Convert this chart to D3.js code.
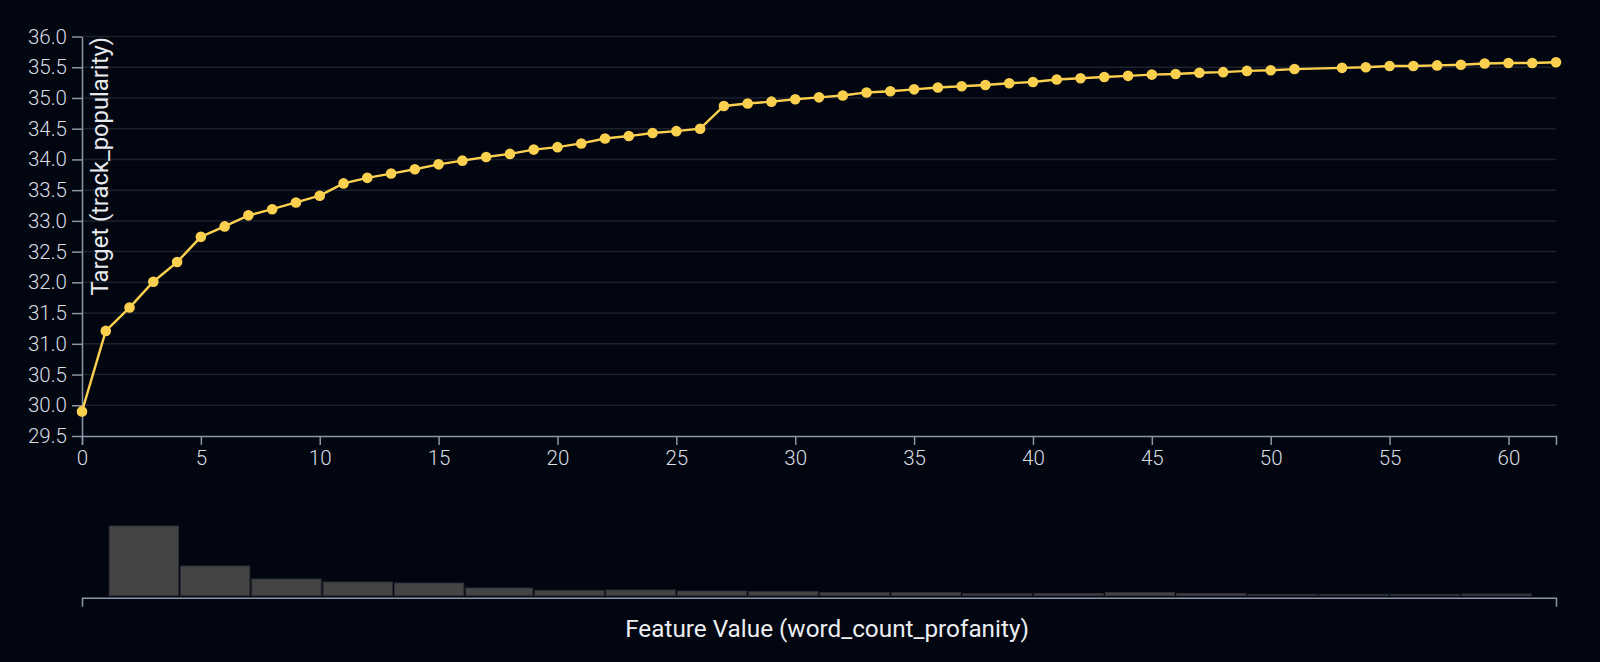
<!DOCTYPE html>
<html>
<head>
<meta charset="utf-8">
<script src="https://cdn.jsdelivr.net/npm/d3@7"></script>
<style>
  html, body { margin: 0; padding: 0; background: #020611; }
  svg { display: block; }
  text { font-family: Roboto, "Noto Sans", sans-serif; }
</style>
</head>
<body>
<svg id="chart" width="1600" height="662"></svg>
<script>
// ---- data ----
const featureValues = [0,1,2,3,4,5,6,7,8,9,10,11,12,13,14,15,16,17,18,19,20,21,22,23,24,25,26,27,28,29,30,31,32,33,34,35,36,37,38,39,40,41,42,43,44,45,46,47,48,49,50,51,53,54,55,56,57,58,59,60,61,62];
const targetValues = [29.90,31.21,31.59,32.01,32.33,32.74,32.91,33.09,33.19,33.30,33.41,33.61,33.70,33.77,33.84,33.92,33.98,34.04,34.09,34.16,34.20,34.26,34.34,34.38,34.43,34.46,34.50,34.87,34.91,34.94,34.98,35.01,35.04,35.09,35.11,35.14,35.17,35.19,35.21,35.24,35.26,35.30,35.32,35.34,35.36,35.38,35.39,35.41,35.42,35.44,35.45,35.47,35.49,35.50,35.52,35.52,35.53,35.54,35.56,35.57,35.57,35.58];
const yTickValues = [29.5,30.0,30.5,31.0,31.5,32.0,32.5,33.0,33.5,34.0,34.5,35.0,35.5,36.0];
const xTickValues = [0,5,10,15,20,25,30,35,40,45,50,55,60];
const histBinEdges = [1.1,4.1,7.1,10.1,13.1,16.1,19.0,22.0,25.0,28.0,31.0,34.0,37.0,40.0,43.0,46.0,49.0,52.0,55.0,58.0,61.0];
const histCounts = [697,297,167,137,127,77,53,57,47,43,33,33,20,23,33,23,13,13,13,17];
const xLabel = "Feature Value (word_count_profanity)";
const yLabel = "Target (track_popularity)";

// ---- layout ----
const W = 1600, H = 662;
const mLeft = 82, mRight = 1556, mTop = 36.5, mBottom = 436;
const histTop = 526, histBase = 595.7, histAxisY = 597.7;

const svg = d3.select("#chart");
svg.append("rect").attr("width", W).attr("height", H).attr("fill", "#020611");

const x = d3.scaleLinear().domain([0, 62]).range([mLeft, mRight]);
const y = d3.scaleLinear().domain([29.5, 36.0]).range([mBottom, mTop]);

// grid
svg.append("g")
  .selectAll("line")
  .data(yTickValues.filter(v => v > 29.5))
  .join("line")
  .attr("x1", mLeft).attr("x2", mRight)
  .attr("y1", d => y(d)).attr("y2", d => y(d))
  .attr("stroke", "#1d212c").attr("stroke-width", 1.5);

// axes
const axisColor = "#8c96a6";
const tickColor = "#d9dce1";

const yAxis = svg.append("g")
  .attr("transform", `translate(${mLeft},0)`)
  .call(d3.axisLeft(y).tickValues(yTickValues).tickFormat(d3.format(".1f")).tickSize(10).tickSizeOuter(0).tickPadding(5));
const xAxis = svg.append("g")
  .attr("transform", `translate(0,${mBottom})`)
  .call(d3.axisBottom(x).tickValues(xTickValues).tickFormat(d3.format("d")).tickSize(9).tickSizeOuter(9).tickPadding(5));

[yAxis, xAxis].forEach(g => {
  g.select(".domain").attr("stroke", axisColor).attr("stroke-width", 1.5);
  g.selectAll(".tick line").attr("stroke", axisColor).attr("stroke-width", 1.5);
  g.selectAll(".tick text").attr("fill", tickColor).attr("font-size", 20.5).attr("font-weight", 300)
    .attr("font-family", "Roboto, sans-serif");
});

// y label
svg.append("text")
  .attr("transform", "rotate(-90)")
  .attr("x", -37)
  .attr("y", 108)
  .attr("text-anchor", "end")
  .attr("fill", "#e8eaee")
  .attr("font-size", 23.8)
  .attr("font-weight", 400)
  .text(yLabel);

// line + points
const pts = featureValues.map((v, i) => [v, targetValues[i]]);
const lineColor = "#fcd04f";
svg.append("path")
  .datum(pts)
  .attr("fill", "none")
  .attr("stroke", lineColor)
  .attr("stroke-width", 2.4)
  .attr("d", d3.line().x(d => x(d[0])).y(d => y(d[1])));
svg.append("g")
  .selectAll("circle")
  .data(pts)
  .join("circle")
  .attr("cx", d => x(d[0])).attr("cy", d => y(d[1]))
  .attr("r", 5.3)
  .attr("fill", lineColor);

// histogram
const hy = d3.scaleLinear().domain([0, d3.max(histCounts)]).range([histBase, histTop]);
const bins = histCounts.map((c, i) => ({x0: histBinEdges[i], x1: histBinEdges[i + 1], c}));
svg.append("g")
  .selectAll("rect")
  .data(bins)
  .join("rect")
  .attr("x", d => x(d.x0) + 1)
  .attr("width", d => Math.max(0, x(d.x1) - x(d.x0) - 2))
  .attr("y", d => hy(d.c))
  .attr("height", d => histBase - hy(d.c))
  .attr("fill", "#444444")
  .attr("stroke", "#2d2f35")
  .attr("stroke-width", 1);

const hAxis = svg.append("g")
  .attr("transform", `translate(0,${histAxisY})`)
  .call(d3.axisBottom(x).tickValues([]).tickSizeOuter(9));
hAxis.select(".domain").attr("stroke", axisColor).attr("stroke-width", 1.5);

// x label
svg.append("text")
  .attr("x", 827)
  .attr("y", 636.7)
  .attr("text-anchor", "middle")
  .attr("fill", "#eceef1")
  .attr("font-size", 24.3)
  .attr("font-weight", 400)
  .text(xLabel);
</script>
</body>
</html>
